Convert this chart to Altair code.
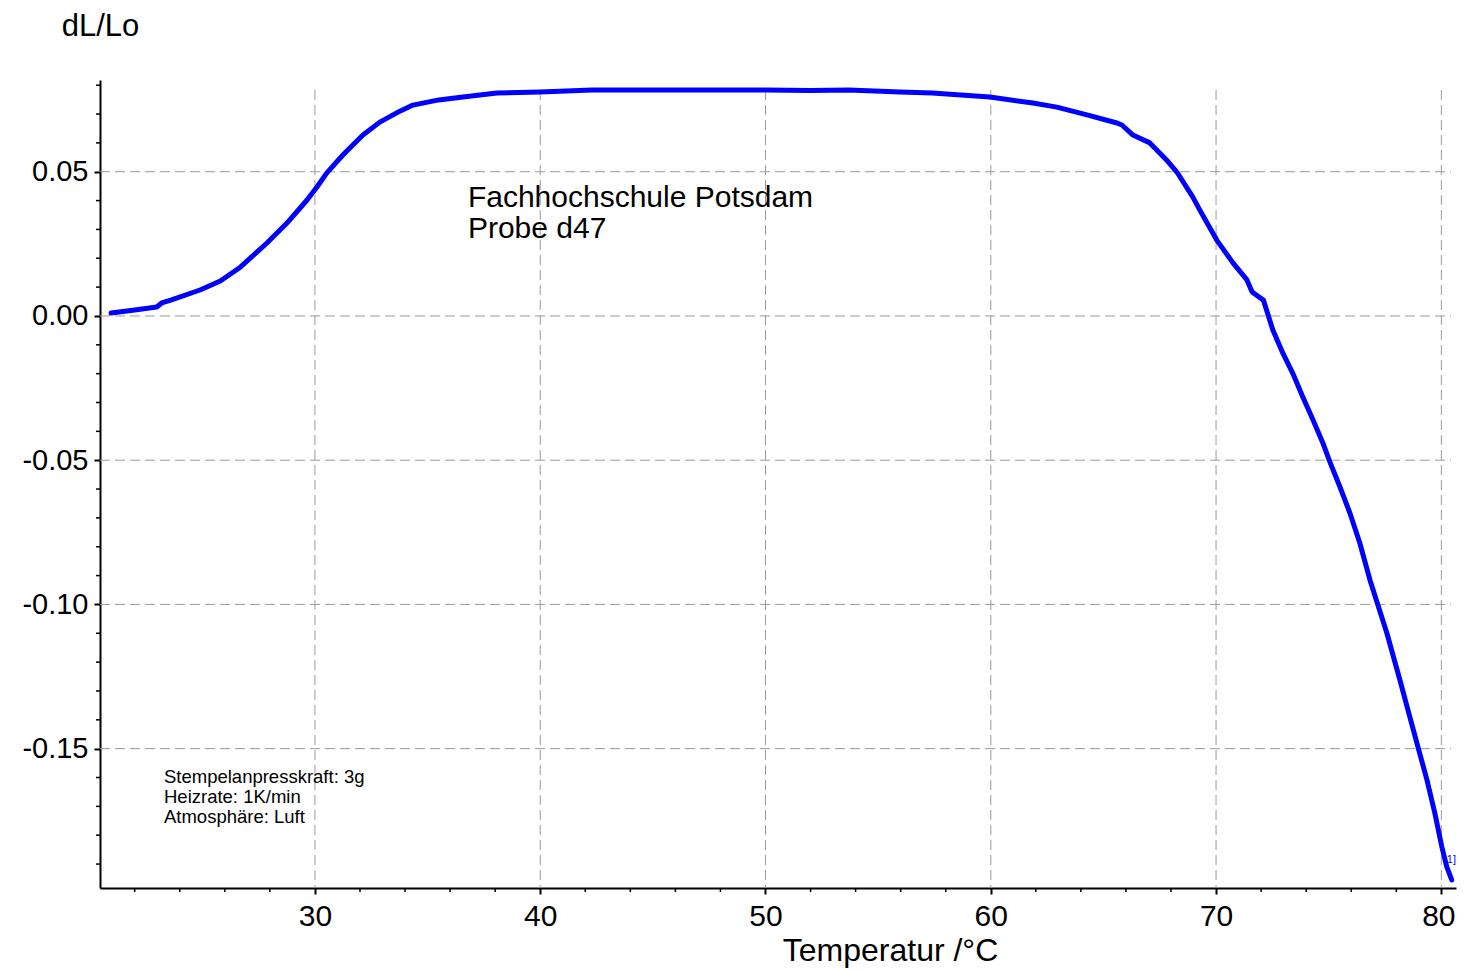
import altair as alt
import pandas as pd

# ---- data ----
temperature = [20.95, 22.0, 22.98, 23.2, 23.6, 24.9, 25.8, 26.7, 27.87, 28.76, 29.65, 30.09,
               30.53, 31.24, 32.13, 32.88, 33.77, 34.35, 35.5, 36.57, 38.08, 40.0, 42.3, 44.0,
               46.2, 48.0, 50.0, 52.0, 53.7, 55.97, 57.4, 59.96, 61.87, 62.93, 64.27, 65.6,
               65.82, 66.31, 67.06, 67.8, 68.26, 68.97, 69.28, 70.03, 70.75, 71.37, 71.6, 72.1,
               72.52, 72.96, 73.4, 73.85, 74.3, 74.74, 75.05, 75.5, 75.94, 76.38, 76.83,
               77.58, 78.16, 78.6, 78.96, 79.36, 79.71, 80.02, 80.24, 80.46]
dl_lo = [0.0010, 0.0021, 0.0031, 0.0045, 0.0055, 0.0090, 0.0121, 0.0170, 0.0253, 0.0322, 0.0402, 0.0447,
         0.0496, 0.0558, 0.0627, 0.0672, 0.0710, 0.0731, 0.0749, 0.0759, 0.0773, 0.0776, 0.0783, 0.0783,
         0.0783, 0.0783, 0.0783, 0.0782, 0.0783, 0.0776, 0.0773, 0.0759, 0.0738, 0.0724, 0.0697, 0.0669,
         0.0662, 0.0627, 0.0600, 0.0541, 0.0499, 0.0412, 0.0367, 0.0263, 0.0184, 0.0125, 0.0083, 0.0055,
         -0.0049, -0.0128, -0.0198, -0.0281, -0.0360, -0.0440, -0.0506, -0.0593, -0.0683, -0.0787, -0.0915,
         -0.1099, -0.1262, -0.1390, -0.1494, -0.1608, -0.1723, -0.1840, -0.1910, -0.1955]

x_major = [30, 40, 50, 60, 70, 80]
y_major = [-0.15, -0.10, -0.05, 0.0, 0.05]
x_minor = [22, 24, 26, 28, 32, 34, 36, 38, 42, 44, 46, 48, 52, 54, 56, 58,
           62, 64, 66, 68, 72, 74, 76, 78]
y_minor = [-0.19, -0.18, -0.17, -0.16, -0.14, -0.13, -0.12, -0.11, -0.09, -0.08,
           -0.07, -0.06, -0.04, -0.03, -0.02, -0.01, 0.01, 0.02, 0.03, 0.04, 0.06, 0.07, 0.08]

big_note = ["Fachhochschule Potsdam", "Probe d47"]
big_note_x = [36.79, 36.79]
big_note_y = [0.0378, 0.0270]
small_note = ["Stempelanpresskraft: 3g", "Heizrate: 1K/min", "Atmosphäre: Luft"]
small_note_x = [23.30, 23.30, 23.30]
small_note_y = [-0.1618, -0.1689, -0.1758]
curve_tag = ["1]"]
curve_tag_x = [80.24]
curve_tag_y = [-0.1896]

x_domain = [20.46, 80.65]
y_domain = [-0.1983, 0.0818]

FONT = "Liberation Sans"
W, H = 1356, 808

xs = alt.Scale(domain=x_domain, nice=False, zero=False)
ys = alt.Scale(domain=y_domain, nice=False, zero=False)

x_axis = alt.Axis(
    values=x_major, title="Temperatur /°C", grid=False,
    labelFont=FONT, labelFontSize=30, labelColor="black",
    labelBaseline="alphabetic", labelPadding=31,
    labelOffset=alt.condition("datum.value == 80", alt.value(-3), alt.value(0)),
    tickSize=6, tickWidth=2, tickColor="black",
    domainColor="black", domainWidth=2,
    titleFont=FONT, titleFontSize=32, titleFontWeight="normal", titleColor="black",
    titleX=790, titleY=72, titleAlign="center", titleBaseline="alphabetic",
)
y_axis = alt.Axis(
    values=y_major, title="dL/Lo", grid=False,
    labelExpr="replace(format(datum.value, '.2f'), '\u2212', '-')",
    labelFont=FONT, labelFontSize=29, labelColor="black", labelPadding=6,
    tickSize=6, tickWidth=2, tickColor="black",
    domainColor="black", domainWidth=2,
    titleFont=FONT, titleFontSize=31, titleFontWeight="normal", titleColor="black",
    titleAngle=0, titleX=0, titleY=-45, titleAlign="center", titleBaseline="alphabetic",
)

df = pd.DataFrame({"T": temperature, "dL": dl_lo})

grid_color = "#9a9a9a"
grid_v = alt.Chart(pd.DataFrame({"T": x_major})).mark_rule(
    color=grid_color, strokeWidth=1, strokeDash=[10, 5]
).encode(x=alt.X("T:Q", scale=xs, axis=x_axis), y=alt.value(10), y2=alt.value(H))

grid_h = alt.Chart(pd.DataFrame({"dL": y_major})).mark_rule(
    color=grid_color, strokeWidth=1, strokeDash=[10, 5]
).encode(y=alt.Y("dL:Q", scale=ys, axis=y_axis), x=alt.value(0), x2=alt.value(1351))

minor_x = alt.Chart(pd.DataFrame({"T": x_minor})).mark_rule(
    color="black", strokeWidth=1.5
).encode(x=alt.X("T:Q", scale=xs, axis=x_axis), y=alt.value(H), y2=alt.value(H + 4))

minor_y = alt.Chart(pd.DataFrame({"dL": y_minor})).mark_rule(
    color="black", strokeWidth=1.5
).encode(y=alt.Y("dL:Q", scale=ys, axis=y_axis), x=alt.value(-4), x2=alt.value(0))

line = alt.Chart(df).mark_line(
    color="#0000ff", strokeWidth=5, strokeJoin="round", strokeCap="round"
).encode(
    x=alt.X("T:Q", scale=xs, axis=x_axis),
    y=alt.Y("dL:Q", scale=ys, axis=y_axis),
)

def text_layer(xv, yv, labels, size, color):
    d = pd.DataFrame({"T": xv, "dL": yv, "t": labels})
    return alt.Chart(d).mark_text(
        align="left", baseline="alphabetic", font=FONT, fontSize=size, color=color
    ).encode(x=alt.X("T:Q", scale=xs, axis=x_axis),
             y=alt.Y("dL:Q", scale=ys, axis=y_axis), text="t:N")

big = text_layer(big_note_x, big_note_y, big_note, 30, "black")
small = text_layer(small_note_x, small_note_y, small_note, 18.5, "black")
tag = text_layer(curve_tag_x, curve_tag_y, curve_tag, 11, "#0000ff")

chart = alt.layer(grid_v, grid_h, minor_x, minor_y, line, big, small, tag).properties(
    width=W, height=H,
    autosize=alt.AutoSizeParams(type="none"),
    padding={"left": 92, "top": 72, "right": 1, "bottom": 82},
    background="white",
).configure_view(stroke=None)

chart.save("out.html", embed_options={"renderer": "svg", "actions": False})
